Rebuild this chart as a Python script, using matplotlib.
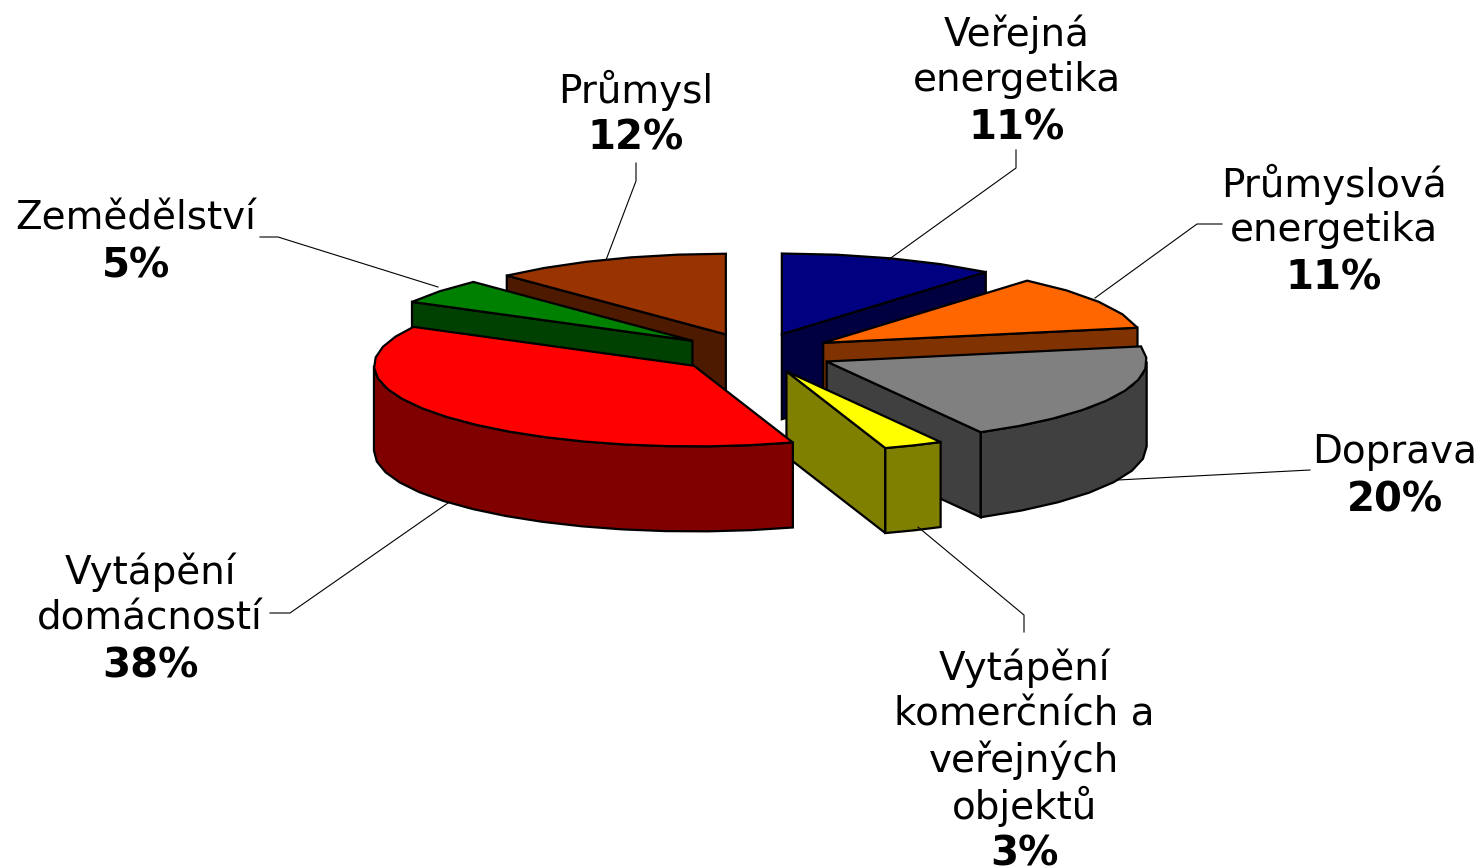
import numpy as np
import matplotlib
matplotlib.use('Agg')
import matplotlib.pyplot as plt
from matplotlib.patches import Polygon

# hodnoty v procentech, po smeru hodin od 12 hodin
names = ['Veřejná\nenergetika', 'Průmyslová\nenergetika', 'Doprava',
         'Vytápění\nkomerčních a\nveřejných\nobjektů', 'Vytápění\ndomácností',
         'Zemědělství', 'Průmysl']
values = [11, 11, 20, 3, 38, 5, 12]
top_colors = ['#000080', '#FF6600', '#808080', '#FFFF00', '#FF0000', '#008000', '#993300']
side_colors = ['#000040', '#803300', '#404040', '#808000', '#800000', '#004000', '#4D1A00']

# geometrie kolace v pixelech
cx, cy = 755, 353
rx, ry = 320, 80.7
depth = 85
explode = 0.2475
lw = 1.6
fs = 28
fs_bold = 29
line_h = 46

# kresli se odzadu dopredu
draw_order = [0, 6, 5, 1, 2, 3, 4]

label_pos = [(1017, 34), (1334, 184), (1395, 452), (1024, 668), (150, 572), (136, 218), (636, 90)]
leaders = [[(1016, 150), (1016, 168), (888, 260)],
           [(1222, 224), (1197, 224), (1095, 298)],
           [(1310, 470), (1118, 480)],
           [(1024, 632), (1024, 615), (918, 527)],
           [(270, 613), (290, 613), (448, 503)],
           [(260, 237), (278, 237), (438, 287)],
           [(636, 163), (636, 181), (606, 260)]]

fig = plt.figure(figsize=(14.79, 8.67), dpi=100)
ax = fig.add_axes([0, 0, 1, 1])
ax.set_xlim(0, 1479)
ax.set_ylim(867, 0)
ax.axis('off')

edges = np.cumsum([0] + values) / sum(values) * 2 * np.pi


def pt(x0, y0, t):
    return x0 + rx * np.sin(t), y0 - ry * np.cos(t)


def face(points, color):
    ax.add_patch(Polygon(points, closed=True, facecolor=color, edgecolor='black', linewidth=lw))


for i in draw_order:
    t0, t1 = edges[i], edges[i + 1]
    mid = (t0 + t1) / 2
    x0 = cx + explode * rx * np.sin(mid)
    y0 = cy - explode * ry * np.cos(mid)
    top = pt(x0, y0, t0)
    end = pt(x0, y0, t1)

    # radialni steny
    if np.sin(t0) < -1e-6:
        face([(x0, y0), top, (top[0], top[1] + depth), (x0, y0 + depth)], side_colors[i])
    if np.sin(t1) > 1e-6:
        face([(x0, y0), end, (end[0], end[1] + depth), (x0, y0 + depth)], side_colors[i])

    # vnejsi stena, jen predni cast
    a0 = max(t0, np.pi / 2)
    a1 = min(t1, 3 * np.pi / 2)
    if a1 > a0:
        ts = np.linspace(a0, a1, max(3, int(np.degrees(a1 - a0) / 7)))
        xs, ys = pt(x0, y0, ts)
        pts = list(zip(xs, ys)) + list(zip(xs[::-1], ys[::-1] + depth))
        face(pts, side_colors[i])

    # horni plocha
    ts = np.linspace(t0, t1, max(3, int(np.degrees(t1 - t0) / 7)))
    xs, ys = pt(x0, y0, ts)
    face([(x0, y0)] + list(zip(xs, ys)), top_colors[i])

for i in range(len(values)):
    x, y = label_pos[i]
    lines = names[i].split('\n')
    for j, line in enumerate(lines):
        ax.text(x, y + j * line_h, line, ha='center', va='center', fontsize=fs, color='black')
    ax.text(x, y + len(lines) * line_h + 2, f'{values[i]}%', ha='center', va='center',
            fontsize=fs_bold, fontweight='bold', color='black')
    lx, ly = zip(*leaders[i])
    ax.plot(lx, ly, color='black', linewidth=0.8)

fig.savefig('out.png', dpi=100)
